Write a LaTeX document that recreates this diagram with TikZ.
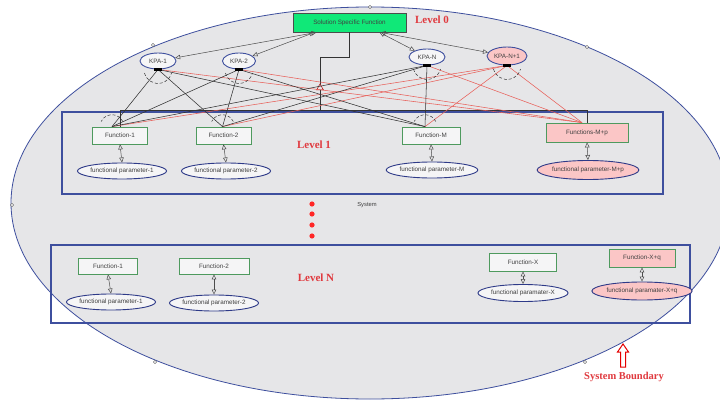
\documentclass[tikz,border=0pt]{standalone}
\usepackage{fontspec}
\setmainfont{Liberation Serif}
\setsansfont{Liberation Sans}
\usetikzlibrary{shapes.geometric,arrows.meta}
\definecolor{bgfill}{HTML}{E6E6E8}
\definecolor{bdblue}{HTML}{3E4F9E}
\definecolor{navy}{HTML}{2E3A88}
\definecolor{fgreen}{HTML}{4E9A5E}
\definecolor{pinkf}{HTML}{FBC6C6}
\definecolor{lvlred}{HTML}{E0393E}
\definecolor{ssfgreen}{HTML}{10E878}
\definecolor{redline}{HTML}{E8605A}
\begin{document}
\begin{tikzpicture}[x=1pt,y=-1pt,
  txt/.style={font=\sffamily\fontsize{6.3}{7}\selectfont, text=black!75},
  func/.style={txt, draw=fgreen, line width=0.8pt, fill=bgfill!40!white, minimum height=17pt, inner sep=1pt},
  kpa/.style={txt, ellipse, draw=bdblue, line width=0.9pt, fill=bgfill!40!white, minimum height=16pt, inner sep=0pt},
  param/.style={txt, ellipse, draw=navy, line width=0.9pt, fill=bgfill!40!white, minimum height=16pt, inner sep=0pt},
  pinkbox/.style={fill=pinkf},
  lvl/.style={font=\rmfamily\bfseries\fontsize{11}{12}\selectfont, text=lvlred},
  blk/.style={draw=black!80, line width=0.55pt},
  rdl/.style={draw=redline, line width=0.55pt},
  dbl/.style={draw=black!70, line width=0.5pt, {Triangle[open,length=5pt,width=4.5pt]}-{Triangle[open,length=5pt,width=4.5pt]}},
  arcd/.style={draw=black!80, densely dashed, line width=0.5pt},
  handle/.style={draw=black!70, fill=white, line width=0.4pt}
]
\useasboundingbox (0,0) rectangle (720,401);
\clip (0,0) rectangle (720,401);
\fill[white] (0,0) rectangle (720,401);

% system boundary ellipse
\draw[draw=bdblue, fill=bgfill, line width=0.8pt] (370,203) ellipse [x radius=359pt, y radius=196pt];
\foreach \p in {(370,7),(12,205),(153,45),(587,47),(155,362),(585,362)}
  \draw[handle] \p circle (1.6pt);

% level containers
\draw[bdblue, line width=1.2pt] (62,112) rectangle (663,194);
\draw[bdblue, line width=1.2pt] (51,245) rectangle (690,323);

% level 0
\node[draw=black!70, line width=0.8pt, fill=ssfgreen, minimum width=113pt, minimum height=19pt, inner sep=0pt, txt] (ssf) at (349.5,22.5) {Solution Specific Function};
\node[lvl] (l0) at (432,20) {Level 0};

% KPAs
\node[kpa, minimum width=36pt] (k1) at (158,61) {KPA-1};
\node[kpa, minimum width=33pt] (k2) at (239,61) {KPA-2};
\node[kpa, minimum width=36pt] (kn) at (427,57) {KPA-N};
\node[kpa, pinkbox, minimum width=40pt, minimum height=18pt] (kn1) at (507,56) {KPA-N+1};

% level 1 functions
\node[func, minimum width=55pt] (f1) at (120,135.5) {Function-1};
\node[func, minimum width=55pt] (f2) at (223.5,135.5) {Function-2};
\node[func, minimum width=58pt] (fm) at (431,135.5) {Function-M};
\node[func, pinkbox, minimum width=82pt, minimum height=19pt] (fmp) at (587,132.5) {Functions-M+p};

\node[param, minimum width=80pt] (p1) at (122,171) {functional parameter-1};
\node[param, minimum width=77pt] (p2) at (226,171) {functional parameter-2};
\node[param, minimum width=90pt] (pm) at (432,170) {functional parameter-M};
\node[param, pinkbox, minimum width=100pt, minimum height=19pt] (pmp) at (588,170) {functional parameter-M+p};
\node[lvl] (l1) at (314,145) {Level 1};

% top anchors on functions
\coordinate (t1) at ([xshift=-8pt]f1.north);
\coordinate (t2) at ([xshift=-1pt]f2.north);
\coordinate (tm) at ([xshift=-6pt]fm.north);
\coordinate (tmp) at ([xshift=-5pt]fmp.north);

% bus from solution specific function
\coordinate (busL) at (120,110);
\coordinate (busR) at (587,110);
\coordinate (busM) at (320,110);
\draw[blk] (ssf.south) -- ++(0,25) -| (busM);
\draw[blk] (f1.north) -- (busL) -- (busR) -- (fmp.north);
\draw[draw=red!70!black, fill=bgfill, line width=0.5pt] (320,84) -- (316.5,90) -- (323.5,90) -- cycle;

% SSF <-> KPA arrows
\draw[dbl] ([xshift=-33pt]ssf.south) -- (k1);
\draw[dbl] ([xshift=-35pt]ssf.south) -- (k2);
\draw[dbl] ([xshift=30pt]ssf.south) -- (kn);
\draw[dbl] ([xshift=31pt]ssf.south) -- (kn1);

% red lines (pink elements)
\foreach \t in {t1,t2,tm,tmp} \draw[rdl] (kn1.south) -- (\t);
\foreach \k in {k1,k2,kn} \draw[rdl] (\k.south) -- (tmp);

% black lines
\foreach \k in {k1,k2,kn} {
  \foreach \t in {t1,t2,tm} \draw[blk] (\k.south) -- (\t);
}

% KPA markers and arcs
\foreach \k in {k1,k2,kn,kn1} {
  \fill ([xshift=-4pt,yshift=-2pt]\k.south) rectangle ([xshift=4pt,yshift=1pt]\k.south);
  \draw[arcd] ([shift={(195:14pt)}]\k.south) arc[start angle=195, end angle=345, radius=14pt];
}
\foreach \t in {t1,t2,tm}
  \draw[arcd] ([shift={(25:12pt)}]\t) arc[start angle=25, end angle=155, radius=12pt];

% function <-> parameter
\draw[dbl] (f1.south) -- (p1.north);
\draw[dbl] (f2.south) -- (p2.north);
\draw[dbl] (fm.south) -- (pm.north);
\draw[dbl] (fmp.south) -- (pmp.north);

% dots and system label
\foreach \yy in {204,214,225,236} \fill[red!85!white] (312,\yy) circle (2.6pt);
\node[txt, font=\sffamily\fontsize{5.8}{7}\selectfont] (sys) at (367,205) {System};

% level N
\node[func, minimum width=59pt, minimum height=16pt] (n1) at (108,266) {Function-1};
\node[func, minimum width=70pt, minimum height=16pt] (n2) at (214,266) {Function-2};
\node[func, minimum width=67pt, minimum height=18pt] (nx) at (523,262) {Function-X};
\node[func, pinkbox, minimum width=66pt, minimum height=18pt] (nxq) at (642,258) {Function-X+q};
\node[param, minimum width=78pt] (q1) at (111,302) {functional parameter-1};
\node[param, minimum width=78pt] (q2) at (214,303) {functional parameter-2};
\node[param, minimum width=88pt, minimum height=17pt] (qx) at (523,293) {functional paramater-X};
\node[param, pinkbox, minimum width=82pt, minimum height=18pt] (qxq) at (642,291) {functional paramater-X+q};
\node[lvl] (ln) at (316,278) {Level N};
\draw[dbl] (n1.south) -- (q1.north);
\draw[dbl] (n2.south) -- (q2.north);
\draw[dbl] (nx.south) -- (qx.north);
\draw[dbl] (nxq.south) -- (qxq.north);

% system boundary label
\draw[draw=red!90!black, fill=white, line width=1pt] (623,344) -- (628.5,352) -- (625.5,352) -- (625.5,367) -- (620.5,367) -- (620.5,352) -- (617.5,352) -- cycle;
\node[lvl, font=\rmfamily\bfseries\fontsize{10.5}{12}\selectfont] (sb) at (624,377) {System Boundary};
\end{tikzpicture}
\end{document}
